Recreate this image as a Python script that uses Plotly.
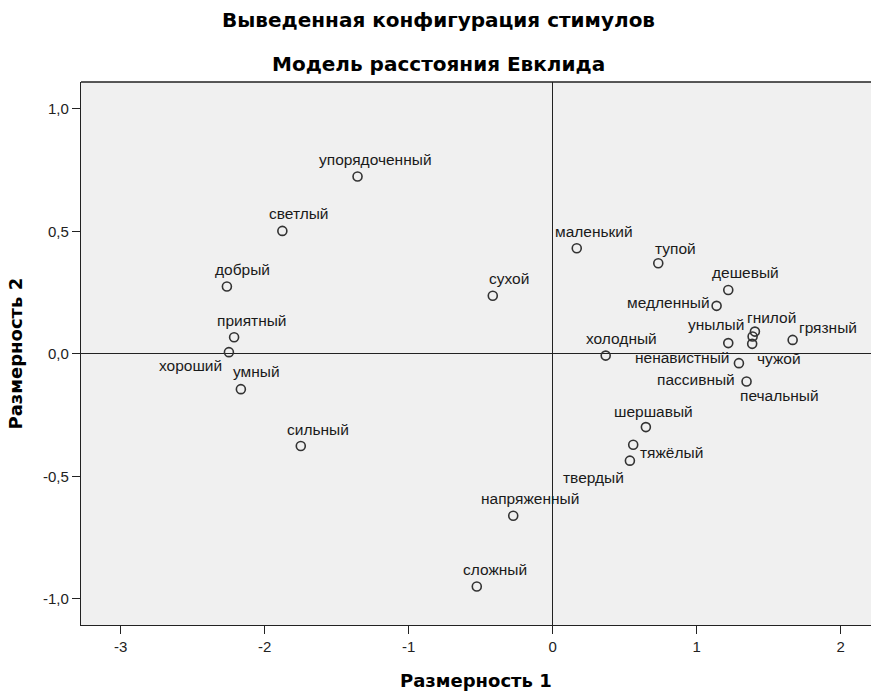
import plotly.graph_objects as go

# ---- data ----
labels = ["упорядоченный", "светлый", "добрый", "приятный", "хороший", "умный", "сильный",
          "сухой", "напряженный", "сложный", "маленький", "тупой", "дешевый", "медленный",
          "холодный", "унылый", "гнилой", "чужой", "ненавистный", "пассивный", "печальный",
          "грязный", "шершавый", "тяжёлый", "твердый"]
dim1 = [-1.355, -1.877, -2.262, -2.212, -2.248, -2.165, -1.749,
        -0.416, -0.274, -0.527, 0.167, 0.733, 1.219, 1.138,
        0.368, 1.219, 1.404, 1.388, 1.385, 1.293, 1.346,
        1.666, 0.647, 0.559, 0.536]
dim2 = [0.724, 0.502, 0.275, 0.068, 0.007, -0.144, -0.376,
        0.237, -0.661, -0.950, 0.431, 0.370, 0.261, 0.196,
        -0.007, 0.044, 0.091, 0.071, 0.041, -0.038, -0.113,
        0.057, -0.299, -0.371, -0.436]
x_ticks = [-3, -2, -1, 0, 1, 2]
x_tick_labels = ["-3", "-2", "-1", "0", "1", "2"]
y_ticks = [-1.0, -0.5, 0.0, 0.5, 1.0]
y_tick_labels = ["-1,0", "-0,5", "0,0", "0,5", "1,0"]

# label placement offsets in pixels (dx right, dy down)
label_offsets = [(18, -17), (17, -17), (16, -17), (17.5, -17), (-38, 13), (16, -17.5), (17, -16),
                 (16.5, -17), (17, -17), (18, -17), (17, -17), (17.5, -15), (17, -17), (-48, -3),
                 (16, -17), (-12.5, -19), (17, -14), (26.5, 21.6), (-70.6, 13.3), (-43, 16), (32.6, 14),
                 (35, -12), (8, -16), (38, 8), (-36, 17)]

FONT = "Liberation Sans, Arial, sans-serif"
BOLD = "DejaVu Sans, sans-serif"
LINE = "#222222"

fig = go.Figure()
fig.add_trace(go.Scatter(
    x=dim1, y=dim2, mode="markers",
    marker=dict(symbol="circle-open", size=9, color="#333333", line=dict(width=1.6, color="#333333")),
    hoverinfo="text", text=labels, showlegend=False,
))

annotations = []
for lab, xv, yv, (dx, dy) in zip(labels, dim1, dim2, label_offsets):
    annotations.append(dict(x=xv, y=yv, xref="x", yref="y", text=lab, showarrow=False,
                            xshift=dx, yshift=-dy, font=dict(family=FONT, size=15.5, color="#1a1a1a")))

annotations.append(dict(x=0.453, y=1, xref="paper", yref="paper", yanchor="middle",
                        text="<b>Выведенная конфигурация стимулов</b>", showarrow=False, yshift=62,
                        font=dict(family=BOLD, size=20, color="#000000")))
annotations.append(dict(x=0.453, y=1, xref="paper", yref="paper", yanchor="middle",
                        text="<b>Модель расстояния Евклида</b>", showarrow=False, yshift=18,
                        font=dict(family=BOLD, size=20, color="#000000")))
annotations.append(dict(x=0.5, y=0, xref="paper", yref="paper", yanchor="middle",
                        text="<b>Размерность 1</b>", showarrow=False, yshift=-55,
                        font=dict(family=BOLD, size=18, color="#000000")))
annotations.append(dict(x=0, y=0.5, xref="paper", yref="paper", xanchor="center", yanchor="middle",
                        text="<b>Размерность 2</b>", showarrow=False, xshift=-66, textangle=-90,
                        font=dict(family=BOLD, size=18, color="#000000")))

fig.update_layout(
    width=871, height=691,
    margin=dict(l=81, r=0, t=82, b=66),
    paper_bgcolor="white", plot_bgcolor="#F0F0F0",
    annotations=annotations,
    shapes=[dict(type="line", xref="paper", yref="paper", x0=0, x1=1, y0=1, y1=1,
                 line=dict(color=LINE, width=1.3))],
    font=dict(family=FONT, size=15, color="#222222"),
)
fig.update_xaxes(
    range=[-3.275, 2.21], tickvals=x_ticks, ticktext=x_tick_labels, ticks="outside", ticklen=8,
    tickwidth=1.3, tickcolor=LINE, showgrid=False, zeroline=True, zerolinecolor=LINE,
    zerolinewidth=1.3, showline=True, linecolor=LINE, linewidth=1.3, mirror=False,
    tickfont=dict(family=FONT, size=15, color="#222222"),
)
fig.update_yaxes(
    range=[-1.107, 1.110], tickvals=y_ticks, ticktext=y_tick_labels, ticks="outside", ticklen=8,
    tickwidth=1.3, tickcolor=LINE, showgrid=False, zeroline=True, zerolinecolor=LINE,
    zerolinewidth=1.3, showline=True, linecolor=LINE, linewidth=1.3, mirror=False,
    tickfont=dict(family=FONT, size=15, color="#222222"),
)

fig.write_html("out.html", config={"displayModeBar": False},
               post_script="document.body.style.margin='0';")
